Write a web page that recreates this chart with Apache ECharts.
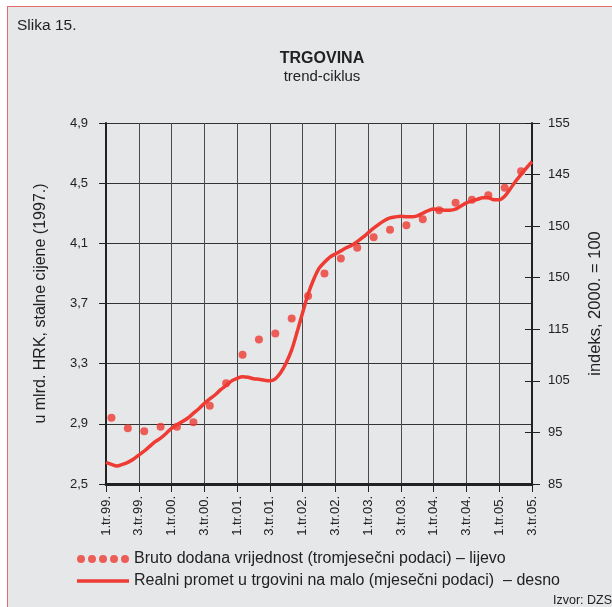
<!DOCTYPE html>
<html>
<head>
<meta charset="utf-8">
<title>Trgovina</title>
<script src="https://cdn.jsdelivr.net/npm/echarts@6/dist/echarts.min.js"></script>
<style>
  html, body { margin: 0; padding: 0; background: #fff; overflow: hidden; }
  #frame { position: absolute; left: 7px; top: 6px; width: 700px; height: 700px; border: 1px solid #e36a6a; background: #e6e7e9; }
  #chart { position: absolute; left: 0; top: 0; width: 612px; height: 607px; }
</style>
</head>
<body>
<div id="frame"></div>
<div id="chart"></div>
<script>
// oznake na x osi (svakih 6 mjeseci)
const tickLabels = ["1.tr.99.", "3.tr.99.", "1.tr.00.", "3.tr.00.", "1.tr.01.", "3.tr.01.", "1.tr.02.",
  "3.tr.02.", "1.tr.03.", "3.tr.03.", "1.tr.04.", "3.tr.04.", "1.tr.05.", "3.tr.05."];
// desna os - oznake kako su otisnute na slici (odozdo prema gore)
const rightTickLabels = ["85", "95", "105", "115", "150", "150", "145", "155"];

// mjesec (indeks od sij. 1999.) u kojem je tromjesecna tocka
const bdvMonths = [1, 4, 7, 10, 13, 16, 19, 22, 25, 28, 31, 34, 37, 40, 43, 46, 49, 52, 55, 58, 61, 64, 67, 70, 73, 76];
// bruto dodana vrijednost, mlrd. HRK - lijevo
const bdvValues = [2.94, 2.87, 2.85, 2.88, 2.88, 2.91, 3.02, 3.17, 3.36, 3.46, 3.50, 3.60, 3.75, 3.90, 4.00, 4.07, 4.14,
  4.19, 4.22, 4.26, 4.32, 4.37, 4.39, 4.42, 4.47, 4.58];
// realni promet u trgovini na malo, indeks - desno (mjesecno)
const retailValues = [89.2, 88.8, 88.5, 88.8, 89.2, 89.8, 90.6, 91.4, 92.3, 93.2, 93.9, 94.8, 95.8, 96.5, 97.1, 97.8,
  98.7, 99.6, 100.6, 101.5, 102.3, 103.3, 104.1, 105.0, 105.5, 105.8, 105.7, 105.4, 105.3, 105.1, 105.0, 105.4,
  106.6, 108.5, 111.0, 114.5, 118.2, 121.8, 124.6, 126.8, 128.0, 129.0, 129.6, 130.2, 130.8, 131.3, 132.0, 132.8,
  133.7, 134.6, 135.4, 136.1, 136.6, 136.8, 136.9, 136.8, 136.8, 137.0, 137.5, 138.0, 138.3, 138.2, 138.1, 138.1,
  138.3, 138.9, 139.5, 139.9, 140.2, 140.5, 140.5, 140.1, 140.1, 140.8, 142.2, 143.7, 145.0, 146.3, 147.5];

const months = [];
for (let i = 0; i < retailValues.length; i++) {
  const y = 1999 + Math.floor(i / 12);
  const m = (i % 12) + 1;
  months.push(y + "-" + (m < 10 ? "0" + m : m));
}

const RED = "#ee3b33";
const TXT = "#222";
const FONT = "'Liberation Sans', Arial, sans-serif";
const bdvName = "Bruto dodana vrijednost (tromjesečni podaci) – lijevo";
const retailName = "Realni promet u trgovini na malo (mjesečni podaci)  – desno";

// pet tockica za legendu
let dots = "path://";
for (let k = 0; k < 5; k++) {
  const cx = 4 + k * 11;
  dots += "M" + (cx - 4) + ",4 a4,4 0 1,0 8,0 a4,4 0 1,0 -8,0 ";
}

const chart = echarts.init(document.getElementById("chart"));
const option = {
  backgroundColor: "transparent",
  textStyle: { fontFamily: FONT, color: TXT },
  animation: false,
  title: {
    text: "TRGOVINA",
    subtext: "trend-ciklus",
    left: 322,
    top: 51,
    padding: 0,
    textAlign: "center",
    itemGap: 2,
    textStyle: { fontSize: 16, fontWeight: "bold", color: TXT, fontFamily: FONT },
    subtextStyle: { fontSize: 15, color: TXT, fontFamily: FONT }
  },
  graphic: [
    { type: "text", left: 17, top: 18, style: { text: "Slika 15.", fontSize: 15.5, fill: TXT, fontFamily: FONT } },
    { type: "text", left: 553, top: 594, style: { text: "Izvor: DZS", fontSize: 12.5, fill: TXT, fontFamily: FONT } }
  ],
  legend: {
    orient: "vertical",
    left: 77,
    top: 551,
    padding: 0,
    itemWidth: 52,
    itemHeight: 8,
    itemGap: 6,
    textStyle: { fontSize: 16, color: TXT, fontFamily: FONT },
    data: [
      { name: bdvName, icon: dots },
      { name: retailName, icon: "path://M0,0H52V3.5H0Z" }
    ]
  },
  grid: { left: 106, right: 71, top: 123, bottom: 123 },
  xAxis: {
    type: "category",
    data: months,
    boundaryGap: false,
    axisLine: { lineStyle: { color: TXT, width: 3 } },
    axisTick: { interval: 5, length: 8, lineStyle: { color: TXT, width: 1 } },
    axisLabel: {
      interval: 5, rotate: 90, margin: 12, fontSize: 13, color: TXT,
      formatter: (v, i) => tickLabels[i / 6]
    },
    splitLine: { show: true, interval: 5, lineStyle: { color: "#4a4a4a", width: 1 } }
  },
  yAxis: [
    {
      type: "value", position: "left", min: 2.5, max: 4.9, interval: 0.4,
      name: "u mlrd. HRK, stalne cijene (1997.)",
      nameLocation: "middle", nameGap: 57, nameRotate: 90,
      nameTextStyle: { fontSize: 16, color: TXT },
      axisLine: { show: true, lineStyle: { color: TXT, width: 2 } },
      axisTick: { show: true, length: 7, lineStyle: { color: TXT } },
      axisLabel: { margin: 18, fontSize: 13, color: TXT, formatter: v => v.toFixed(1).replace(".", ",") },
      splitLine: { show: true, lineStyle: { color: "#333", width: 1 } }
    },
    {
      type: "value", position: "right", min: 85, max: 155, interval: 10,
      name: "indeks, 2000. = 100",
      nameLocation: "middle", nameGap: 55, nameRotate: 90,
      nameTextStyle: { fontSize: 16.5, color: TXT },
      axisLine: { show: true, lineStyle: { color: TXT, width: 2 } },
      axisTick: { show: true, length: 8, lineStyle: { color: TXT } },
      axisLabel: { margin: 16, fontSize: 13, color: TXT, formatter: v => rightTickLabels[Math.round((v - 85) / 10)] },
      splitLine: { show: false }
    },
    {
      // unutarnji dio crtica na desnoj osi
      type: "value", position: "right", min: 85, max: 155, interval: 10,
      axisLine: { show: false },
      axisTick: { show: true, inside: true, length: 7, lineStyle: { color: TXT } },
      axisLabel: { show: false },
      splitLine: { show: false }
    }
  ],
  series: [
    {
      name: retailName,
      type: "line",
      yAxisIndex: 1,
      data: retailValues,
      symbol: "none",
      smooth: 0.3,
      color: RED,
      lineStyle: { color: RED, width: 3.5 },
      z: 3
    },
    {
      name: bdvName,
      type: "scatter",
      yAxisIndex: 0,
      data: bdvMonths.map((m, i) => [m, bdvValues[i]]),
      symbolSize: 8,
      color: RED,
      itemStyle: { color: RED },
      z: 4
    }
  ]
};
chart.setOption(option);
</script>
</body>
</html>
